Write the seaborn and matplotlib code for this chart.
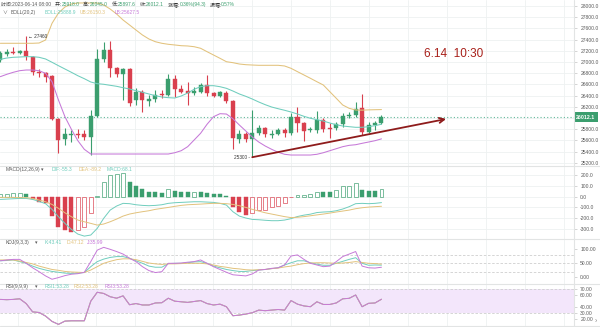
import numpy as np
import matplotlib
matplotlib.use("Agg")
import matplotlib.pyplot as plt
import matplotlib.transforms as mtransforms
from matplotlib.lines import Line2D
import seaborn as sns

# ---------------- data ----------------
opens = [27036, 27137, 27179, 27155, 27196, 27095, 26827, 26809, 26750, 25977,
         25620, 25700, 25714, 25709, 25666, 26036, 27059, 27214, 26887, 26780,
         26870, 26321, 26470, 26309, 26334, 26429, 26411, 26691, 26518, 26488,
         26452, 26470, 26589, 26452, 26393, 26452, 26309, 25625, 25709, 25620,
         25727, 25827, 25700, 25714, 25786, 25727, 26012, 25905, 25780, 25786,
         25964, 25816, 25816, 25893, 26036, 26054, 26173, 25755, 25870, 25918.0]
highs = [27190, 27227, 27273, 27214, 27460, 27100, 26870, 26827, 26760, 25995,
         25816, 25786, 25798, 25786, 26143, 27227, 27363, 27380, 26916, 26887,
         26887, 26530, 26500, 26411, 26500, 26500, 26786, 26768, 26589, 26648,
         26559, 26620, 26768, 26470, 26488, 26482, 26320, 25786, 25755, 26143,
         25875, 25845, 25786, 25827, 25816, 26084, 26191, 25934, 25845, 26130,
         25995, 25916, 25934, 26084, 26113, 26291, 26429, 25934, 25952, 26045.0]
lows = [27000, 27107, 27137, 27137, 27036, 26768, 26727, 26648, 25964, 25370,
        25518, 25577, 25637, 25607, 25339, 26020, 27005, 26738, 26738, 26321,
        26214, 26232, 26113, 26214, 26291, 26352, 26393, 26380, 26441, 26232,
        26411, 26440, 26393, 26370, 26370, 26263, 25441, 25559, 25577, 25300,
        25696, 25666, 25637, 25696, 25666, 25696, 25755, 25595, 25755, 25727,
        25755, 25638, 25786, 25845, 25995, 26023, 25696, 25727, 25786, 25897.6]
closes = [27155, 27184, 27155, 27196, 27107, 26827, 26798, 26738, 25977, 25607,
          25709, 25714, 25691, 25666, 26036, 27048, 27214, 26887, 26780, 26870,
          26263, 26470, 26321, 26334, 26411, 26405, 26691, 26512, 26470, 26452,
          26488, 26589, 26452, 26393, 26464, 26309, 25638, 25709, 25620, 25727,
          25827, 25714, 25714, 25786, 25727, 26012, 25905, 25768, 25798, 25964,
          25798, 25798, 25887, 26041, 26054, 26161, 25755, 25875, 25917.8, 26012.1]

boll_upper = [27334, 27334, 27334, 27334, 27334, 27334, 27339, 27393, 27690, 27875,
              27982, 28036, 28054, 28054, 28054, 28054, 28018, 27946, 27857, 27750,
              27661, 27571, 27482, 27411, 27362, 27334, 27316, 27304, 27291, 27286,
              27273, 27245, 27184, 27125, 27066, 27005, 26988, 26964, 26952, 26946,
              26941, 26941, 26941, 26941, 26929, 26887, 26827, 26768, 26709, 26648,
              26589, 26470, 26352, 26232, 26173, 26143, 26140, 26145, 26148, 26150.3]
boll_mid = [27048, 27071, 27084, 27089, 27095, 27095, 27084, 27054, 26995, 26934,
            26875, 26816, 26755, 26702, 26643, 26613, 26602, 26584, 26566, 26541,
            26518, 26488, 26459, 26429, 26398, 26375, 26363, 26357, 26393, 26446,
            26513, 26559, 26577, 26577, 26559, 26530, 26482, 26429, 26387, 26339,
            26286, 26238, 26196, 26166, 26138, 26107, 26071, 26030, 25995, 25970,
            25946, 25911, 25880, 25857, 25845, 25834, 25834, 25845, 25863, 25888.9]
boll_lower = [26738, 26780, 26816, 26845, 26857, 26857, 26845, 26798, 26648, 26321,
              26023, 25798, 25595, 25441, 25357, 25357, 25357, 25357, 25357, 25357,
              25357, 25357, 25357, 25357, 25357, 25357, 25357, 25380, 25416, 25488,
              25607, 25727, 25888, 26023, 26077, 26071, 25988, 25875, 25768, 25661,
              25571, 25500, 25441, 25388, 25352, 25339, 25339, 25339, 25339, 25352,
              25380, 25416, 25452, 25488, 25512, 25523, 25548, 25571, 25595, 25627.5]

macd_hist = [25, 28, 31, 34, 22, -19, -47, -62, -178, -280,
             -311, -327, -311, -280, -150, 6, 140, 202, 212, 218,
             140, 100, 69, 47, 40, 37, 69, 53, 47, 40,
             47, 40, 31, 28, 22, 3, -93, -140, -171, -156,
             -128, -122, -93, -87, -62, -6, 16, 19, 22, 48,
             46, 45, 62, 100, 103, 125, 62, 56, 55, 68.1]
dif = [-25, -22, -19, -16, -16, -25, -44, -65, -118, -187,
       -249, -305, -349, -368, -358, -296, -202, -125, -87, -62,
       -65, -75, -81, -84, -81, -75, -62, -56, -53, -50,
       -47, -47, -50, -53, -62, -78, -140, -181, -199, -212,
       -215, -220, -224, -224, -218, -205, -185, -172, -163, -148,
       -143, -140, -131, -115, -93, -65, -62, -65, -62, -55.3]
dea = [-6, -6, -6, -9, -9, -16, -31, -47, -72, -109,
       -150, -187, -218, -234, -249, -265, -255, -234, -209, -181,
       -162, -150, -140, -131, -118, -109, -100, -90, -81, -75,
       -72, -69, -65, -62, -62, -65, -72, -84, -100, -118,
       -134, -150, -162, -174, -186, -195, -192, -186, -178, -170,
       -162, -153, -143, -134, -125, -112, -103, -97, -93, -89.2]

kdj_k = [59, 60, 62, 56, 50, 40, 32, 26, 21, 18,
         15, 14, 15, 17, 38, 56, 65, 71, 74, 74,
         68, 59, 50, 40, 36, 36, 49, 50, 50, 52,
         55, 56, 50, 40, 34, 28, 24, 21, 21, 24,
         26, 28, 31, 34, 44, 52, 59, 59, 52, 47,
         43, 43, 50, 57, 64, 70, 50, 43, 44, 43.41]
kdj_d = [62, 62, 62, 58, 53, 48, 40, 34, 28, 25,
         21, 19, 18, 17, 26, 38, 50, 57, 63, 66,
         66, 63, 57, 51, 48, 46, 48, 48, 49, 50,
         50, 50, 48, 44, 39, 36, 32, 30, 27, 26,
         27, 28, 31, 33, 37, 40, 45, 49, 51, 52,
         52, 51, 50, 51, 53, 56, 53, 50, 49, 47.12]
kdj_j = [59, 62, 64, 64, 50, 34, 20, 5, -7, -1,
         6, 11, 13, 18, 56, 97, 107, 100, 92, 83,
         68, 56, 38, 24, 17, 20, 50, 50, 51, 54,
         56, 62, 50, 38, 28, 18, 9, 7, 5, 12,
         26, 28, 32, 34, 44, 76, 80, 64, 50, 44,
         38, 40, 56, 74, 83, 92, 40, 34, 33, 35.99]

rsi = [53, 52.5, 53, 54, 46, 32, 31, 25, 16, 11,
       16.5, 17, 17, 17, 50, 65, 63, 57.5, 55, 59,
       44, 46, 43.6, 43.6, 47, 47.4, 55, 50, 49, 48,
       49.5, 51, 46, 43.6, 45, 40.7, 25.5, 26.6, 28.3, 30.6,
       35, 34, 35, 36, 35, 51, 45, 42, 40.7, 49,
       44.5, 44.5, 47, 54, 54.8, 60.4, 40.7, 46.4, 47, 53.28]

price_ticks = [28000, 27800, 27600, 27400, 27200, 27000, 26800, 26600, 26400,
               26200, 26000, 25800, 25600, 25400, 25200]
macd_ticks = [200, 100, 0, -100, -200, -300]
kdj_ticks = [100, 50, 0]
rsi_ticks = [70, 60, 40, 30, 20]

last_price = 26012.1
swing_high = 27460
swing_low = 25300

# ---------------- style ----------------
W, H = 600, 327
AX_R = 574
GREEN = "#3b9e6e"
RED = "#d9404e"
TEAL = "#6fcdbd"
YELLOW = "#e2c27c"
PURPLE = "#c679d8"
GRID = "#eef1f1"
SEP = "#e2e4e4"
LABEL = "#5a5a5a"
ARROW = "#8e1b1b"
FS = 3.6

sns.set_theme(style="white")
plt.rcParams["font.family"] = ["Liberation Sans", "Noto Sans CJK SC", "DejaVu Sans"]
plt.rcParams["axes.unicode_minus"] = False

fig = plt.figure(figsize=(W / 100, H / 100), dpi=100)
fig.patch.set_facecolor("white")

idx = np.arange(len(closes))
vgrid = [(17.7 + 39 * k) / 6.46 for k in range(15)]


def pane(top, bottom, sharex=None):
    ax = fig.add_axes([0, 1 - bottom / H, AX_R / W, (bottom - top) / H], sharex=sharex)
    ax.set_facecolor("none")
    for s in ax.spines.values():
        s.set_visible(False)
    ax.yaxis.tick_right()
    ax.tick_params(axis="y", length=2, width=0.4, color="#b5b5b5", pad=2.5,
                   labelsize=FS, labelcolor=LABEL, left=False, right=True)
    ax.tick_params(axis="x", bottom=False, labelbottom=False)
    ax.grid(False)
    for gx in vgrid:
        ax.axvline(gx, color=GRID, lw=0.6, zorder=0)
    return ax


# ---------------- main price pane ----------------
ax = pane(0, 166)
ax.set_xlim(-0.05, 88.8)
ax.set_ylim(25143, 28107)
for p in price_ticks:
    ax.axhline(p, color=GRID, lw=0.6, zorder=0)
ax.set_yticks(price_ticks)
ax.set_yticklabels(["" if p == 26000 else f"{p:.1f}" for p in price_ticks])

o = np.array(opens, float)
c = np.array(closes, float)
h = np.array(highs, float)
l = np.array(lows, float)
col = np.where(c >= o, GREEN, RED)
ax.vlines(idx, l, h, colors=col, lw=0.8, zorder=3)
body_lo = np.minimum(o, c)
body_h = np.maximum(np.abs(c - o), 14)
ax.bar(idx, body_h, bottom=body_lo, width=0.62, color=col, edgecolor=col, lw=0.3, zorder=4)

sns.lineplot(x=idx, y=boll_upper, ax=ax, color=YELLOW, lw=0.75, zorder=5, legend=False)
sns.lineplot(x=idx, y=boll_mid, ax=ax, color=TEAL, lw=0.75, zorder=5, legend=False)
sns.lineplot(x=idx, y=boll_lower, ax=ax, color=PURPLE, lw=0.75, zorder=5, legend=False)
ax.set_xlabel("")
ax.set_ylabel("")

ax.axhline(last_price, color="#63b99b", lw=0.8, ls=(0, (1, 2)), zorder=2)
blend = mtransforms.blended_transform_factory(ax.transAxes, ax.transData)
ax.text(1.004, last_price, f"{last_price:.1f}", transform=blend, ha="left", va="center",
        fontsize=FS + 0.2, color="white", fontweight="bold", clip_on=False, zorder=10,
        bbox=dict(boxstyle="square,pad=0.45", fc=GREEN, ec="none"))

ax.text(4.3, swing_high, "← 27460", ha="left", va="center", fontsize=FS - 0.2,
        color="#333333", zorder=6)
ax.text(38.6, swing_low, "25300 -", ha="right", va="center", fontsize=FS - 0.2,
        color="#333333", zorder=6)

ax.annotate("", xy=(69.0, 25982), xytext=(39, swing_low),
            arrowprops=dict(arrowstyle="->", color=ARROW, lw=1.3, shrinkA=0, shrinkB=0,
                            mutation_scale=9), zorder=7)
ax.text(70.2, 27143, "6.14  10:30", ha="center", va="center", fontsize=8.5,
        color="#a8201a", zorder=7)

# ---------------- MACD pane ----------------
axm = pane(166, 239, sharex=ax)
axm.set_ylim(-395, 287)
for t in macd_ticks:
    axm.axhline(t, color=GRID, lw=0.6, zorder=0)
axm.set_yticks(macd_ticks)
axm.set_yticklabels([f"{t:.1f}" for t in macd_ticks])
hist = np.array(macd_hist, float)
prev = np.r_[hist[0], hist[:-1]]
hollow = hist >= prev
hcol = np.where(hist >= 0, GREEN, RED)
for i in idx:
    if hollow[i]:
        axm.bar(i, hist[i], width=0.6, facecolor="white", edgecolor=hcol[i], lw=0.55,
                alpha=0.85, zorder=3)
    else:
        axm.bar(i, hist[i], width=0.62, color=hcol[i], edgecolor=hcol[i], lw=0.3, zorder=3)
sns.lineplot(x=idx, y=dif, ax=axm, color=TEAL, lw=0.7, zorder=4, legend=False)
sns.lineplot(x=idx, y=dea, ax=axm, color=YELLOW, lw=0.7, zorder=4, legend=False)
axm.set_xlabel("")
axm.set_ylabel("")

# ---------------- KDJ pane ----------------
axk = pane(239, 284, sharex=ax)
axk.set_ylim(-23.9, 136.8)
axk.set_yticks(kdj_ticks)
axk.set_yticklabels([f"{t:.2f}" for t in kdj_ticks])
for lv in (80, 50, 20):
    axk.axhline(lv, color="#cfcfcf", lw=0.6, ls=(0, (3, 2)), zorder=1)
sns.lineplot(x=idx, y=kdj_k, ax=axk, color=TEAL, lw=0.7, zorder=4, legend=False)
sns.lineplot(x=idx, y=kdj_d, ax=axk, color=YELLOW, lw=0.7, zorder=4, legend=False)
sns.lineplot(x=idx, y=kdj_j, ax=axk, color=PURPLE, lw=0.7, zorder=5, legend=False)
axk.set_xlabel("")
axk.set_ylabel("")

# ---------------- RSI pane ----------------
axr = pane(284, 325.5, sharex=ax)
axr.set_ylim(9.1, 78.9)
axr.set_yticks(rsi_ticks)
axr.set_yticklabels([f"{t:.2f}" for t in rsi_ticks])
axr.axhspan(30, 70, color="#f3e6fb", lw=0, zorder=0)
for lv in (70, 30):
    axr.axhline(lv, color="#cfcfcf", lw=0.6, ls=(0, (3, 2)), zorder=1)
for colr in (TEAL, YELLOW, PURPLE):
    sns.lineplot(x=idx, y=rsi, ax=axr, color=colr, lw=0.7, zorder=4, legend=False)
axr.set_xlabel("")
axr.set_ylabel("")
ax.set_xlim(-0.05, 88.8)

# ---------------- frame lines ----------------
for yy in (166, 239, 284, 325.5):
    fig.add_artist(Line2D([0, 1], [1 - yy / H] * 2, transform=fig.transFigure,
                          color=SEP, lw=0.8))
fig.add_artist(Line2D([AX_R / W] * 2, [0, 1], transform=fig.transFigure, color=SEP, lw=0.8))


# ---------------- header texts ----------------
renderer = fig.canvas.get_renderer()


def row(x_px, y_px, parts, size=FS, gap=0.0):
    """Lay out coloured text pieces one after another on a single line."""
    x = x_px
    for s, colr in parts:
        t = fig.text(x / W, 1 - y_px / H, s, color=colr, fontsize=size, ha="left", va="center")
        x += t.get_window_extent(renderer=renderer).width + gap
    return x


DARK = "#333333"
row(1, 4.3, [("时间:2023-06-14 08:00", LABEL), ("   开:", DARK), ("25918.0", GREEN),
             ("   高:", DARK), ("26045.0", GREEN), ("   低:", DARK), ("25897.6", GREEN),
             ("   收:", DARK), ("26012.1", GREEN), ("   涨幅:", DARK), ("0.36%(94.3)", GREEN),
             ("   振幅:", DARK), ("0.57%", GREEN)], size=3.5)

row(3, 12.5, [("∨  ", LABEL), ("BOLL(20,2)", LABEL)], size=3.5)
row(45, 12.5, [("BOLL:25888.9", TEAL)], size=3.5)
row(80, 12.5, [("UB:26150.3", YELLOW)], size=3.5)
row(115, 12.5, [("LB:25627.5", PURPLE)], size=3.5)

row(6, 169.5, [("MACD(12,26,9)", LABEL)])
row(41, 169.5, [("▾", LABEL)])
row(52, 169.5, [("DIF:-55.3", TEAL)])
row(79, 169.5, [("DEA:-89.2", YELLOW)])
row(107, 169.5, [("MACD:68.1", TEAL)])

row(6, 242.5, [("KDJ(9,3,3)", LABEL)])
row(35, 242.5, [("▾", LABEL)])
row(45, 242.5, [("K:43.41", TEAL)])
row(67, 242.5, [("D:47.12", YELLOW)])
row(87, 242.5, [("J:35.99", PURPLE)])

row(6, 286.5, [("RSI(9,9,9)", LABEL)])
row(35, 286.5, [("▾", LABEL)])
row(45, 286.5, [("RSI1:53.28", TEAL)])
row(74, 286.5, [("RSI2:53.28", YELLOW)])
row(105, 286.5, [("RSI3:53.28", PURPLE)])

fig.text(596 / W, 1 - 322 / H, "›", fontsize=5, color="#888888", ha="center", va="center")

fig.savefig("out.png", dpi=100)
